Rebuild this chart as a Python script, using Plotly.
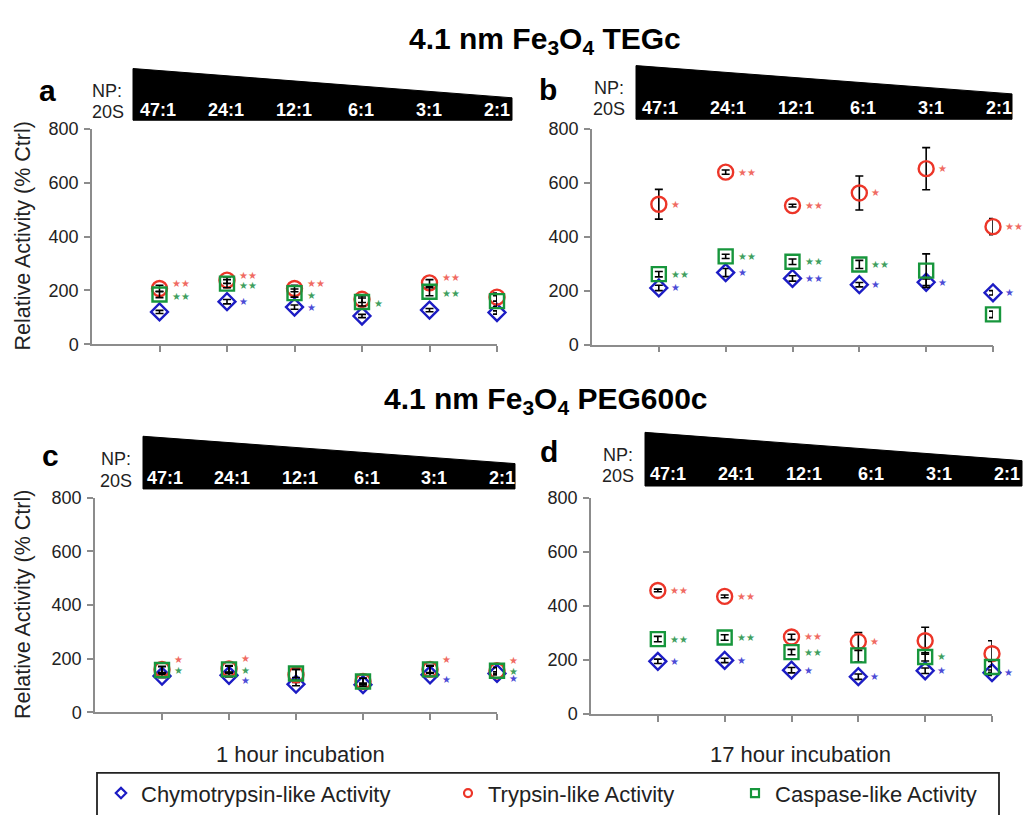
import plotly.graph_objects as go

# ---------------- data ----------------
ratios = ["47:1", "24:1", "12:1", "6:1", "3:1", "2:1"]
cat_x = [1, 2, 3, 4, 5, 6]

# Panel a: TEGc, 1 hour
a_chymo = [120, 158, 138, 105, 127, 118]
a_chymo_err = [6, 8, 8, 6, 6, 6]
a_tryp = [207, 238, 207, 167, 228, 175]
a_tryp_err = [12, 12, 12, 12, 12, 15]
a_casp = [185, 225, 190, 157, 195, 160]
a_casp_err = [12, 15, 15, 15, 15, 20]
a_stars_chymo = [0, 1, 1, 0, 0, 0]
a_stars_tryp = [2, 2, 2, 0, 2, 0]
a_stars_casp = [2, 2, 1, 1, 2, 0]

# Panel b: TEGc, 17 hour
b_chymo = [210, 267, 245, 222, 231, 192]
b_chymo_err = [10, 15, 10, 8, 12, 8]
b_tryp = [520, 639, 515, 562, 652, 437]
b_tryp_err = [55, 8, 5, 63, 78, 30]
b_casp = [261, 327, 307, 297, 274, 112]
b_casp_err = [10, 8, 10, 15, 62, 12]
b_stars_chymo = [1, 1, 2, 1, 1, 1]
b_stars_tryp = [1, 2, 2, 1, 1, 2]
b_stars_casp = [2, 2, 2, 2, 0, 0]

# Panel c: PEG600c, 1 hour
c_chymo = [135, 138, 105, 103, 140, 145]
c_chymo_err = [6, 6, 6, 6, 6, 6]
c_tryp = [160, 162, 140, 115, 160, 155]
c_tryp_err = [12, 12, 20, 12, 12, 12]
c_casp = [158, 160, 145, 115, 160, 155]
c_casp_err = [12, 12, 15, 12, 15, 12]
c_stars_chymo = [0, 1, 0, 0, 1, 1]
c_stars_tryp = [1, 1, 0, 0, 1, 1]
c_stars_casp = [1, 1, 0, 0, 0, 1]

# Panel d: PEG600c, 17 hour
d_chymo = [195, 198, 162, 138, 160, 153]
d_chymo_err = [8, 8, 10, 10, 10, 10]
d_tryp = [457, 435, 285, 268, 271, 223]
d_tryp_err = [5, 5, 10, 33, 50, 48]
d_casp = [277, 283, 229, 217, 211, 174]
d_casp_err = [10, 10, 10, 25, 15, 20]
d_stars_chymo = [1, 1, 1, 1, 1, 1]
d_stars_tryp = [2, 2, 2, 1, 0, 0]
d_stars_casp = [2, 2, 2, 0, 1, 0]

series_names = ["Chymotrypsin-like Activity", "Trypsin-like Activity", "Caspase-like Activity"]
y_ticks = [0, 200, 400, 600, 800]

# ---------------- style ----------------
W, H = 1023, 815
FONT = "Liberation Sans, Arial, sans-serif"
BLUE, RED, GREEN = "#1c1cc4", "#ec3528", "#17963c"
STAR_COLORS = ["#4b4bd6", "#f06a62", "#3f9f5f"]
AXIS_COLOR = "#8c8c8c"
TEXT = "#222222"


def px(x):
    return x / W


def py(y):
    return 1 - y / H


panels = [
    dict(key="a", xd=(92, 497), yd=(121.7, 342.7),
         data=[(a_chymo, a_chymo_err, a_stars_chymo), (a_tryp, a_tryp_err, a_stars_tryp), (a_casp, a_casp_err, a_stars_casp)],
         banner=[(133, 60), (512, 90), (512, 113), (133, 113)], letter=(47, 83), np=(107, 83), s20=(108, 105),
         lab_x0=158, lab_step=67.8, lab_y=103, star_shift=[0, 5, -2], ytitle=True),
    dict(key="b", xd=(592, 993), yd=(121.7, 343),
         data=[(b_chymo, b_chymo_err, b_stars_chymo), (b_tryp, b_tryp_err, b_stars_tryp), (b_casp, b_casp_err, b_stars_casp)],
         banner=[(636, 57), (1012, 86), (1012, 112), (636, 112)], letter=(548, 81), np=(609, 80), s20=(609, 102),
         lab_x0=660, lab_step=67.8, lab_y=100, star_shift=[0, 0, 0], ytitle=False),
    dict(key="c", xd=(95, 497), yd=(500, 720),
         data=[(c_chymo, c_chymo_err, c_stars_chymo), (c_tryp, c_tryp_err, c_stars_tryp), (c_casp, c_casp_err, c_stars_casp)],
         banner=[(143, 437), (515, 465), (515, 491), (143, 491)], letter=(50, 457), np=(116, 460), s20=(116, 483),
         lab_x0=165, lab_step=67.3, lab_y=480, star_shift=[-5, 10, -1], ytitle=True),
    dict(key="d", xd=(591, 992), yd=(500, 721.7),
         data=[(d_chymo, d_chymo_err, d_stars_chymo), (d_tryp, d_tryp_err, d_stars_tryp), (d_casp, d_casp_err, d_stars_casp)],
         banner=[(645, 433), (1022, 462), (1022, 488), (645, 488)], letter=(549, 453), np=(618, 456), s20=(618, 478),
         lab_x0=668, lab_step=67.8, lab_y=476, star_shift=[0, 0, 0], ytitle=False),
]

symbols = ["diamond-open", "circle-open", "square-open"]
colors = [BLUE, RED, GREEN]
sizes = [13, 15, 14]
legend_ids = ["legend", "legend2", "legend3"]

fig = go.Figure()
annotations = []
shapes = []
layout_axes = {}

for i, p in enumerate(panels):
    n = "" if i == 0 else str(i + 1)
    xa, ya = "x" + n, "y" + n
    layout_axes["xaxis" + n] = dict(
        domain=[px(p["xd"][0]), px(p["xd"][1])], range=[0, 6], anchor=ya,
        tickvals=cat_x, ticktext=[""] * 6, ticks="outside", ticklen=6, tickwidth=1.5,
        tickcolor=AXIS_COLOR, showline=True, linecolor=AXIS_COLOR, linewidth=1.5,
        showgrid=False, zeroline=False, fixedrange=True)
    layout_axes["yaxis" + n] = dict(
        domain=[py(p["yd"][1]), py(p["yd"][0])], range=[0, 800], anchor=xa,
        tickvals=y_ticks, ticks="outside", ticklen=6, tickwidth=1.5, tickcolor=AXIS_COLOR,
        showline=True, linecolor=AXIS_COLOR, linewidth=1.5, showgrid=False, zeroline=False,
        tickfont=dict(size=18, color=TEXT, family=FONT), ticklabelstandoff=2, fixedrange=True)
    for s, (vals, errs, stars) in enumerate(p["data"]):
        fig.add_trace(go.Scatter(
            x=cat_x, y=vals, xaxis=xa, yaxis=ya, mode="markers", name=series_names[s],
            marker=dict(symbol=symbols[s], size=sizes[s], color=colors[s], line=dict(width=2.4, color=colors[s])),
            error_y=dict(type="data", array=errs, visible=True, color="black", thickness=1.6, width=4),
            cliponaxis=False, showlegend=False))
        for k in range(6):
            if stars[k]:
                annotations.append(dict(
                    x=cat_x[k], y=vals[k], xref=xa, yref=ya, text="★" * stars[k], showarrow=False,
                    xanchor="left", yanchor="middle", xshift=10, yshift=p["star_shift"][s],
                    font=dict(size=10, color=STAR_COLORS[s], family="DejaVu Sans")))
    # banner wedge
    pts = p["banner"]
    path = "M " + " L ".join(f"{px(x)} {py(y)}" for x, y in pts) + " Z"
    shapes.append(dict(type="path", path=path, xref="paper", yref="paper",
                       fillcolor="black", line=dict(color="black", width=1)))
    # ratio labels in banner
    for k in range(6):
        annotations.append(dict(x=px(p["lab_x0"] + p["lab_step"] * k), y=py(p["lab_y"]), xref="paper", yref="paper",
                                text=f"<b>{ratios[k]}</b>", showarrow=False, xanchor="center", yanchor="middle",
                                font=dict(size=18, color="white", family=FONT)))
    annotations.append(dict(x=px(p["letter"][0]), y=py(p["letter"][1]), xref="paper", yref="paper",
                            text=f"<b>{p['key']}</b>", showarrow=False, xanchor="center", yanchor="middle",
                            font=dict(size=30, color="black", family=FONT)))
    annotations.append(dict(x=px(p["np"][0]), y=py(p["np"][1]), xref="paper", yref="paper", text="NP:",
                            showarrow=False, xanchor="center", yanchor="middle",
                            font=dict(size=18, color=TEXT, family=FONT)))
    annotations.append(dict(x=px(p["s20"][0]), y=py(p["s20"][1]), xref="paper", yref="paper", text="20S",
                            showarrow=False, xanchor="center", yanchor="middle",
                            font=dict(size=18, color=TEXT, family=FONT)))
    if p["ytitle"]:
        annotations.append(dict(x=px(23), y=py((p["yd"][0] + p["yd"][1]) / 2), xref="paper", yref="paper",
                                text="Relative Activity (% Ctrl)", textangle=-90, showarrow=False,
                                xanchor="center", yanchor="middle", font=dict(size=21.5, color=TEXT, family=FONT)))

# legend-only entries (small symbols as in the reference legend)
for s in range(3):
    fig.add_trace(go.Scatter(
        x=[None], y=[None], mode="markers", name=series_names[s], legend=legend_ids[s],
        marker=dict(symbol=symbols[s], size=8, color=colors[s], line=dict(width=2.2, color=colors[s])),
        showlegend=True))

# headings
annotations.append(dict(x=px(545), y=py(31), xref="paper", yref="paper",
                        text="<b>4.1 nm Fe<sub>3</sub>O<sub>4</sub> TEGc</b>", showarrow=False,
                        xanchor="center", yanchor="middle", font=dict(size=30, color="black", family=FONT)))
annotations.append(dict(x=px(546), y=py(400), xref="paper", yref="paper",
                        text="<b>4.1 nm Fe<sub>3</sub>O<sub>4</sub> PEG600c</b>", showarrow=False,
                        xanchor="center", yanchor="middle", font=dict(size=30, color="black", family=FONT)))
annotations.append(dict(x=px(300), y=py(763), xref="paper", yref="paper", text="1 hour incubation",
                        showarrow=False, xanchor="center", yanchor="middle", font=dict(size=22, color=TEXT, family=FONT)))
annotations.append(dict(x=px(800), y=py(763), xref="paper", yref="paper", text="17 hour incubation",
                        showarrow=False, xanchor="center", yanchor="middle", font=dict(size=22, color=TEXT, family=FONT)))

# legend box (bottom edge cut off by the image)
shapes.append(dict(type="path", xref="paper", yref="paper",
                   path=f"M {px(97)} {py(830)} L {px(97)} {py(782)} L {px(999)} {py(782)} L {px(999)} {py(830)}",
                   line=dict(color="#222222", width=1.8)))

leg_common = dict(orientation="h", xanchor="left", yanchor="middle", bgcolor="rgba(0,0,0,0)",
                  borderwidth=0, font=dict(size=22, color=TEXT, family=FONT), itemwidth=30)
legend_x = [101, 448, 735]
layout_leg = {}
for s, lid in enumerate(legend_ids):
    layout_leg[lid] = dict(leg_common, x=px(legend_x[s]), y=py(803))

fig.update_layout(
    width=W, height=H, margin=dict(l=0, r=0, t=0, b=0),
    paper_bgcolor="white", plot_bgcolor="white",
    font=dict(family=FONT, color=TEXT),
    annotations=annotations, shapes=shapes, **layout_axes, **layout_leg)

fig.write_html("out.html", config={"displayModeBar": False},
               post_script="document.body.style.margin='0';document.body.style.overflow='hidden';")
